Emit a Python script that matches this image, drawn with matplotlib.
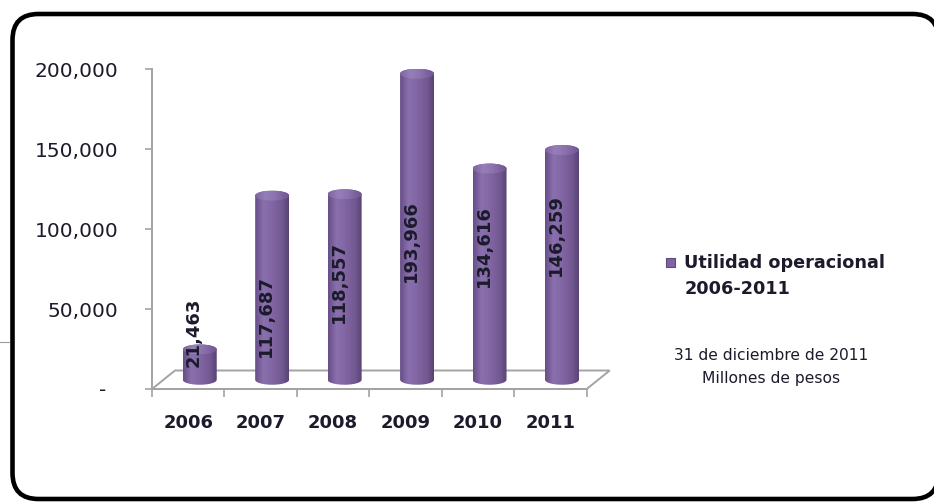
import numpy as np
import matplotlib
matplotlib.use("Agg")
import matplotlib.pyplot as plt
from matplotlib.patches import FancyBboxPatch, PathPatch, Polygon, Ellipse, Rectangle
from matplotlib.path import Path
from matplotlib.colors import LinearSegmentedColormap

years = ["2006", "2007", "2008", "2009", "2010", "2011"]
utilidad = [21463, 117687, 118557, 193966, 134616, 146259]
# where each rotated value label sits along its cylinder (data units above the base)
label_mid = [29400, 40000, 61200, 86900, 83700, 90600]
y_ticks = [0, 50000, 100000, 150000, 200000]
y_tick_labels = ["-  ", "50,000", "100,000", "150,000", "200,000"]

legend_label = "Utilidad operacional"
legend_period = "2006-2011"
note_lines = ["31 de diciembre de 2011", "Millones de pesos"]

TEXT = "#1b1b2b"
AXIS = "#a3a3a3"
PURPLE = "#8064a2"

plt.rcParams["font.family"] = ["DejaVu Sans"]

fig = plt.figure(figsize=(9.34, 5.03), dpi=100)

# pixel-space layer for the rounded frame and the side legend
bg = fig.add_axes([0, 0, 1, 1], zorder=0)
bg.set_xlim(0, 934)
bg.set_ylim(503, 0)
bg.axis("off")
bg.add_patch(FancyBboxPatch((12.5, 14), 926, 485,
                            boxstyle="round,pad=0,rounding_size=26",
                            fc="white", ec="black", lw=3.3))
bg.plot([0, 9], [342, 342], color="#9a9a9a", lw=0.8)

# main chart area: front plane of the 3D box
ax = fig.add_axes([152 / 934, 1 - 389 / 503, (586.7 - 152) / 934, (389 - 69.3) / 503],
                  zorder=1)
ax.patch.set_visible(False)

ppx_x = 6 / (586.7 - 152)          # data units per pixel along x
ppx_y = 200000 / (389 - 69.3)      # data units per pixel along y
depth_x = 23 * ppx_x
depth_y = 18.5 * ppx_y

# floor of the 3D box
floor = Polygon([(-0.5, 0), (5.5, 0), (5.5 + depth_x, depth_y), (-0.5 + depth_x, depth_y)],
                closed=True, fc="white", ec=AXIS, lw=1.4, zorder=1, clip_on=False)
ax.add_patch(floor)

body_cmap = LinearSegmentedColormap.from_list(
    "cyl", [(0, "#664e88"), (0.25, "#8a70ad"), (0.5, "#8266a5"),
            (0.82, "#71578f"), (1, "#574273")])
cap_cmap = LinearSegmentedColormap.from_list(
    "cap", [(0, "#7d649f"), (0.3, "#967fb8"), (0.6, "#8b72ae"), (1, "#6e5590")])
grad = np.linspace(0, 1, 256).reshape(1, -1)

bar_w = 34 * ppx_x
cap_h = 5 * ppx_y
base = depth_y / 2

for i, val in enumerate(utilidad):
    c = i + depth_x / 2
    x0, x1 = c - bar_w / 2, c + bar_w / 2
    # cap centre sits a little under the value so the dome's rim meets it
    top = base + val - 0.8 * cap_h
    th_b = np.linspace(np.pi, 2 * np.pi, 40)
    th_t = np.linspace(0, np.pi, 40)
    verts = np.vstack([
        np.column_stack([c + bar_w / 2 * np.cos(th_b), base + cap_h * np.sin(th_b)]),
        np.column_stack([c + bar_w / 2 * np.cos(th_t), top + cap_h * np.sin(th_t)]),
        [[x0, base]],
    ])
    codes = [Path.MOVETO] + [Path.LINETO] * (len(verts) - 2) + [Path.CLOSEPOLY]
    body = PathPatch(Path(verts, codes), fc="none", ec="none", zorder=3, clip_on=False)
    ax.add_patch(body)
    im = ax.imshow(grad, extent=(x0, x1, base - cap_h, top + cap_h), aspect="auto",
                   cmap=body_cmap, interpolation="bilinear", zorder=3)
    im.set_clip_path(body)

    cap = Ellipse((c, top), bar_w, 2 * cap_h, fc="none", ec="none", zorder=4)
    ax.add_patch(cap)
    im2 = ax.imshow(grad, extent=(x0, x1, top - cap_h, top + cap_h), aspect="auto",
                    cmap=cap_cmap, interpolation="bilinear", zorder=4)
    im2.set_clip_path(cap)

    ax.text(c - 6 * ppx_x, base + label_mid[i], f"{val:,}", rotation=90,
            ha="center", va="center", fontsize=13, fontweight="bold",
            color=TEXT, zorder=5)

ax.set_xlim(-0.5, 5.5)
ax.set_ylim(0, 200000)

for side in ["top", "right"]:
    ax.spines[side].set_visible(False)
for side in ["left", "bottom"]:
    ax.spines[side].set_color(AXIS)
    ax.spines[side].set_linewidth(1.4)

ax.set_yticks(y_ticks)
ax.set_yticklabels(y_tick_labels)
ax.tick_params(axis="y", direction="out", length=5, width=1.2, color=AXIS,
               pad=19, labelsize=14.5, labelcolor=TEXT)

ax.set_xticks(range(len(years)))
ax.set_xticklabels(years, fontweight="bold")
ax.set_xticks(np.arange(-0.5, 6, 1), minor=True)
ax.tick_params(axis="x", which="major", length=0, pad=18, labelsize=13, labelcolor=TEXT)
ax.tick_params(axis="x", which="minor", direction="out", length=6, width=1.2, color=AXIS)

# side legend and note
bg.add_patch(Rectangle((666, 258), 9, 9, fc=PURPLE, ec="#5d4a7a", lw=0.8))
bg.text(684, 263, legend_label, ha="left", va="center", fontsize=12.7,
        fontweight="bold", color=TEXT)
bg.text(685, 289, legend_period, ha="left", va="center", fontsize=12.7,
        fontweight="bold", color=TEXT)
bg.text(771, 355, note_lines[0], ha="center", va="center", fontsize=11.2, color=TEXT)
bg.text(771, 379, note_lines[1], ha="center", va="center", fontsize=11.2, color=TEXT)

fig.savefig("out.png", dpi=100)
